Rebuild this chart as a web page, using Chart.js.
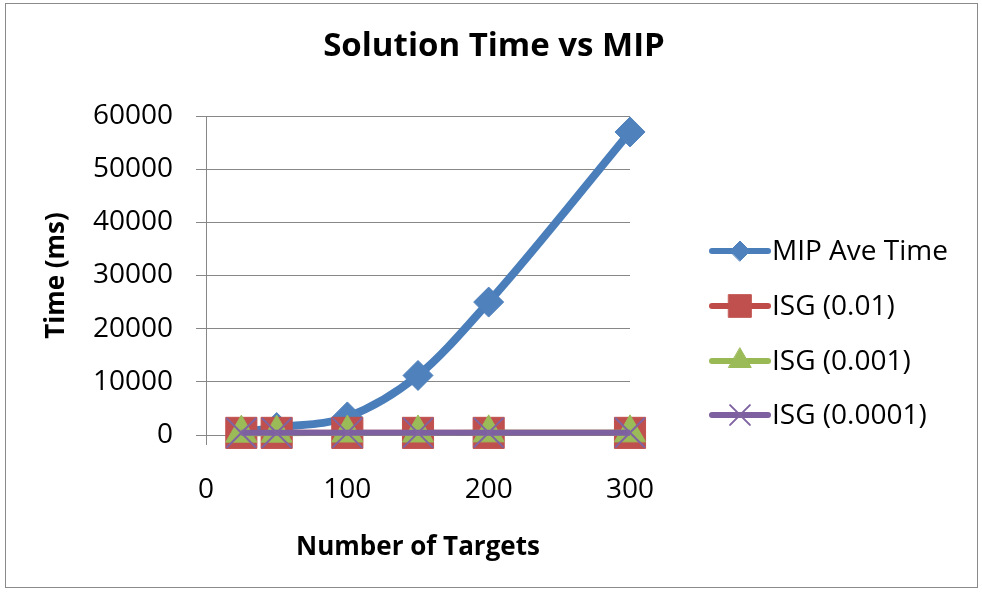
<!DOCTYPE html>
<html lang="en">
<head>
  <meta charset="UTF-8">
  <title>Solution Time vs MIP</title>
  <style>
    body { margin: 0; background: #fff; }
    #wrap { width: 982px; height: 592px; }
  </style>
</head>
<body>
  <div id="wrap"><canvas id="chart" width="982" height="592"></canvas></div>

  <script src="https://cdn.jsdelivr.net/npm/chart.js@4"></script>
  <script>
    const targets = [25, 50, 100, 150, 200, 300];
    const mipTime = [500, 1400, 3400, 11200, 25000, 57000];
    const isg01 = [400, 400, 400, 400, 400, 400];
    const isg001 = [350, 350, 380, 380, 400, 400];
    const isg0001 = [400, 400, 420, 420, 430, 440];
    const seriesNames = ['MIP Ave Time', 'ISG (0.01)', 'ISG (0.001)', 'ISG (0.0001)'];
    const yTicks = [0, 10000, 20000, 30000, 40000, 50000, 60000];
    const xTicks = [0, 100, 200, 300];

    const FONT = '"Open Sans", "Noto Sans", sans-serif';

    const pts = vals => targets.map((x, i) => ({ x: x, y: vals[i] }));

    // r = marker radius in the plot, lr = marker radius in the legend
    const styles = [
      { color: '#4a7ebb', fill: '#4f81bd', shape: 'rectRot', r: 15, lw: 8, lr: 10, order: 4 },
      { color: '#be4b48', fill: '#c0504d', shape: 'rect', r: 22, lw: 6, lr: 16, order: 3 },
      { color: '#98b954', fill: '#9bbb59', shape: 'triangle', r: 18, lw: 6, lr: 13, order: 2 },
      { color: '#7d60a0', fill: '#8064a2', shape: 'crossRot', r: 21, lw: 6, lr: 14, order: 1 }
    ];
    const allVals = [mipTime, isg01, isg001, isg0001];

    const datasets = allVals.map((v, i) => ({
      label: seriesNames[i],
      data: pts(v),
      showLine: true,
      clip: false,
      borderColor: styles[i].color,
      borderWidth: styles[i].lw,
      cubicInterpolationMode: 'monotone',
      pointStyle: styles[i].shape,
      pointRadius: styles[i].r,
      pointHoverRadius: styles[i].r,
      pointBackgroundColor: styles[i].fill,
      pointBorderColor: styles[i].fill,
      pointBorderWidth: styles[i].shape === 'crossRot' ? 2 : 1,
      order: styles[i].order
    }));

    // frame, title and legend drawn around the plot
    const decor = {
      id: 'decor',
      beforeDraw(chart) {
        const c = chart.ctx;
        c.save();
        c.fillStyle = '#fff';
        c.fillRect(0, 0, chart.width, chart.height);
        c.strokeStyle = '#8a8a8a';
        c.lineWidth = 1;
        c.strokeRect(5.5, 3.5, 972, 584);
        c.fillStyle = '#000';
        c.font = 'bold 33px ' + FONT;
        c.textAlign = 'center';
        c.textBaseline = 'alphabetic';
        c.fillText('Solution Time vs MIP', 494, 56);
        c.restore();
      },
      afterDraw(chart) {
        const c = chart.ctx;
        const ys = [251, 306, 361, 415];
        c.save();
        chart.data.datasets.forEach((ds, i) => {
          const s = styles[i];
          c.strokeStyle = s.color;
          c.lineWidth = 6;
          c.lineCap = 'round';
          c.beginPath();
          c.moveTo(712, ys[i]);
          c.lineTo(768, ys[i]);
          c.stroke();
          c.fillStyle = s.fill;
          c.strokeStyle = s.fill;
          c.lineWidth = s.shape === 'crossRot' ? 2 : 1;
          Chart.helpers.drawPoint(c, { pointStyle: s.shape, radius: s.lr, rotation: 0, borderWidth: c.lineWidth }, 740, ys[i]);
          c.fillStyle = '#000';
          c.font = '28px ' + FONT;
          c.textAlign = 'left';
          c.textBaseline = 'middle';
          c.fillText(ds.label, 772, ys[i] + 1);
        });
        c.restore();
      }
    };

    new Chart(document.getElementById('chart'), {
      type: 'scatter',
      data: { datasets: datasets },
      plugins: [decor],
      options: {
        responsive: false,
        animation: false,
        layout: { padding: { left: 20, right: 352, top: 116, bottom: 27 } },
        plugins: { legend: { display: false }, tooltip: { enabled: false } },
        scales: {
          x: {
            type: 'linear',
            min: 0, max: 300,
            afterBuildTicks: s => { s.ticks = xTicks.map(v => ({ value: v })); },
            afterFit: s => { s.height = 130; },
            grid: { drawOnChartArea: false, color: '#878787', tickLength: 10 },
            border: { color: '#878787', width: 1 },
            ticks: { color: '#000', font: { family: FONT, size: 28 }, padding: 28, maxRotation: 0, callback: v => String(v) },
            title: { display: true, text: 'Number of Targets', color: '#000', font: { family: FONT, size: 26, weight: 'bold' }, padding: { bottom: 2 } }
          },
          y: {
            min: 0, max: 60000,
            afterBuildTicks: s => { s.ticks = yTicks.map(v => ({ value: v })); },
            afterFit: s => { s.width = 186; },
            grid: { color: '#878787', tickLength: 10 },
            border: { color: '#878787', width: 1 },
            ticks: { color: '#000', font: { family: FONT, size: 28 }, padding: 23, callback: v => String(v) },
            title: { display: true, text: 'Time (ms)', color: '#000', font: { family: FONT, size: 26, weight: 'bold' }, padding: { top: 21 } }
          }
        }
      }
    });
  </script>
</body>
</html>
